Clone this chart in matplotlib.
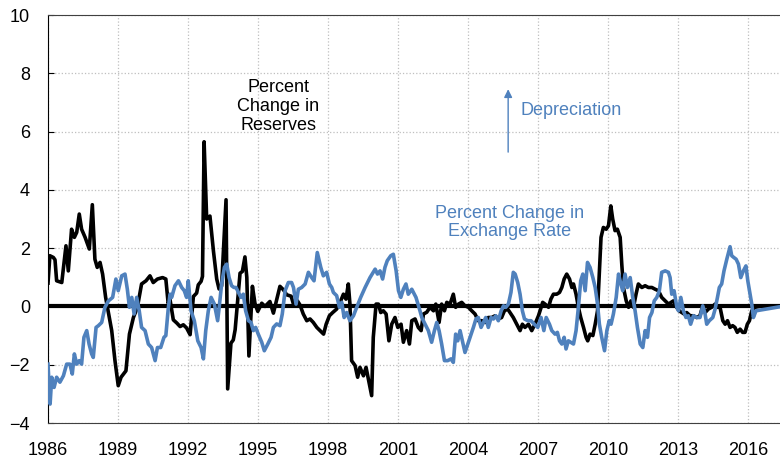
import matplotlib.pyplot as plt

# ---------------- data ----------------
reserves_t = [1986.00, 1986.08, 1986.23, 1986.30, 1986.37, 1986.59, 1986.77, 1986.87, 1987.01, 1987.13,
              1987.23, 1987.34, 1987.44, 1987.59, 1987.77, 1987.90, 1988.01, 1988.11, 1988.23, 1988.34,
              1988.47, 1988.59, 1988.73, 1988.87, 1989.01, 1989.13, 1989.34, 1989.49, 1989.66, 1989.83,
              1990.01, 1990.20, 1990.37, 1990.51, 1990.69, 1990.91, 1991.05, 1991.15, 1991.23, 1991.37,
              1991.52, 1991.66, 1991.80, 1991.94, 1992.09, 1992.23, 1992.37, 1992.44, 1992.56, 1992.62,
              1992.69, 1992.80, 1992.94, 1993.09, 1993.23, 1993.33, 1993.44, 1993.63, 1993.70, 1993.84,
              1993.94, 1994.02, 1994.13, 1994.23, 1994.33, 1994.44, 1994.52, 1994.61, 1994.76, 1994.87,
              1994.99, 1995.16, 1995.30, 1995.51, 1995.66, 1995.94, 1996.09, 1996.23, 1996.42, 1996.52,
              1996.69, 1996.80, 1996.94, 1997.09, 1997.23, 1997.37, 1997.52, 1997.66, 1997.81, 1997.92,
              1998.06, 1998.20, 1998.37, 1998.52, 1998.66, 1998.77, 1998.87, 1998.94, 1999.01, 1999.16,
              1999.27, 1999.37, 1999.52, 1999.63, 1999.73, 1999.87, 1999.94, 2000.06, 2000.16, 2000.26,
              2000.37, 2000.49, 2000.61, 2000.73, 2000.87, 2000.99, 2001.13, 2001.23, 2001.37, 2001.49,
              2001.59, 2001.73, 2001.87, 2001.99, 2002.09, 2002.23, 2002.37, 2002.52, 2002.62, 2002.76,
              2002.87, 2002.99, 2003.09, 2003.23, 2003.37, 2003.47, 2003.59, 2003.73, 2003.87, 2004.02,
              2004.16, 2004.30, 2004.44, 2004.59, 2004.73, 2004.87, 2005.02, 2005.16, 2005.30, 2005.44,
              2005.56, 2005.70, 2005.80, 2005.94, 2006.09, 2006.23, 2006.33, 2006.44, 2006.59, 2006.73,
              2006.87, 2007.02, 2007.20, 2007.30, 2007.45, 2007.55, 2007.66, 2007.80, 2007.92, 2008.02,
              2008.12, 2008.23, 2008.35, 2008.45, 2008.52, 2008.63, 2008.73, 2008.83, 2008.95, 2009.06,
              2009.13, 2009.23, 2009.35, 2009.45, 2009.55, 2009.63, 2009.70, 2009.80, 2009.92, 2010.02,
              2010.12, 2010.20, 2010.30, 2010.40, 2010.52, 2010.59, 2010.66, 2010.78, 2010.88, 2010.98,
              2011.09, 2011.20, 2011.30, 2011.45, 2011.59, 2011.73, 2011.88, 2012.02, 2012.16, 2012.30,
              2012.45, 2012.59, 2012.80, 2012.94, 2013.05, 2013.16, 2013.26, 2013.37, 2013.52, 2013.66,
              2013.80, 2013.94, 2014.06, 2014.16, 2014.30, 2014.44, 2014.59, 2014.69, 2014.80, 2014.92,
              2015.02, 2015.12, 2015.23, 2015.34, 2015.44, 2015.54, 2015.66, 2015.77, 2015.87, 2015.97,
              2016.06, 2016.16, 2016.30, 2016.50]
reserves_v = [0.80, 1.74, 1.68, 1.60, 0.88, 0.82, 2.08, 1.22, 2.65, 2.37,
              2.54, 3.17, 2.65, 2.37, 1.97, 3.49, 1.62, 1.34, 1.51, 1.11,
              0.31, -0.21, -0.83, -1.86, -2.72, -2.43, -2.21, -0.95, -0.38, -0.03,
              0.77, 0.88, 1.05, 0.82, 0.94, 0.99, 0.94, 0.10, 0.23, -0.46,
              -0.57, -0.69, -0.63, -0.74, -0.97, 0.34, 0.46, 0.74, 0.86, 1.03,
              5.65, 3.00, 3.10, 1.90, 0.94, 0.60, 0.70, 3.66, -2.83, -1.26,
              -1.15, -0.80, 0.23, 1.14, 1.20, 1.70, 1.00, -1.70, 0.69, 0.10,
              -0.17, 0.11, 0.00, 0.17, -0.23, 0.69, 0.57, 0.40, 0.35, 0.08,
              0.19, 0.05, -0.26, -0.49, -0.43, -0.55, -0.72, -0.83, -0.95, -0.61,
              -0.32, -0.21, -0.09, 0.14, 0.42, 0.25, 0.77, 0.08, -1.86, -2.03,
              -2.43, -2.09, -2.38, -2.09, -2.49, -3.06, -1.06, 0.08, 0.08, -0.21,
              -0.15, -0.26, -1.18, -0.61, -0.38, -0.72, -0.61, -1.23, -0.83, -1.29,
              -0.49, -0.43, -0.72, -0.83, -0.26, -0.20, -0.03, -0.15, 0.08, -0.55,
              0.08, -0.15, 0.14, 0.08, 0.42, -0.03, 0.08, 0.14, 0.02, -0.03,
              -0.15, -0.26, -0.49, -0.49, -0.55, -0.38, -0.38, -0.32, -0.43, -0.38,
              -0.15, -0.09, -0.21, -0.38, -0.61, -0.83, -0.61, -0.72, -0.61, -0.83,
              -0.61, -0.32, 0.14, 0.08, -0.03, 0.25, 0.42, 0.42, 0.48, 0.65,
              0.94, 1.11, 0.94, 0.65, 0.77, 0.42, -0.03, -0.38, -0.72, -1.06,
              -1.18, -0.95, -1.00, -0.61, -0.15, 1.22, 2.37, 2.71, 2.65, 2.77,
              3.45, 3.00, 2.60, 2.65, 2.37, 1.44, 0.65, 0.19, -0.03, 0.19,
              -0.03, 0.42, 0.77, 0.65, 0.71, 0.65, 0.65, 0.59, 0.54, 0.31,
              0.19, 0.08, 0.19, -0.03, -0.15, -0.21, -0.26, -0.21, -0.32, -0.32,
              -0.38, -0.32, 0.02, -0.21, -0.09, -0.03, 0.08, -0.03, -0.03, -0.49,
              -0.61, -0.49, -0.72, -0.66, -0.72, -0.89, -0.78, -0.89, -0.89, -0.61,
              -0.49, -0.15, -0.03, 0.00]

fx_t = [1986.00, 1986.09, 1986.16, 1986.26, 1986.37, 1986.51, 1986.66, 1986.80, 1986.94, 1987.04,
        1987.13, 1987.23, 1987.34, 1987.44, 1987.54, 1987.66, 1987.76, 1987.87, 1987.94, 1988.06,
        1988.16, 1988.30, 1988.44, 1988.59, 1988.77, 1988.91, 1989.01, 1989.16, 1989.30, 1989.40,
        1989.49, 1989.59, 1989.69, 1989.80, 1989.91, 1990.01, 1990.16, 1990.30, 1990.44, 1990.59,
        1990.69, 1990.83, 1990.97, 1991.05, 1991.15, 1991.23, 1991.30, 1991.44, 1991.59, 1991.73,
        1991.84, 1991.94, 1992.01, 1992.13, 1992.27, 1992.42, 1992.56, 1992.66, 1992.76, 1992.87,
        1992.99, 1993.13, 1993.27, 1993.34, 1993.44, 1993.56, 1993.66, 1993.76, 1993.87, 1993.97,
        1994.06, 1994.16, 1994.27, 1994.37, 1994.47, 1994.59, 1994.70, 1994.80, 1994.90, 1995.01,
        1995.16, 1995.27, 1995.42, 1995.56, 1995.66, 1995.80, 1995.94, 1996.04, 1996.16, 1996.30,
        1996.44, 1996.52, 1996.63, 1996.73, 1996.87, 1997.02, 1997.16, 1997.30, 1997.40, 1997.54,
        1997.69, 1997.80, 1997.94, 1998.06, 1998.16, 1998.23, 1998.37, 1998.49, 1998.59, 1998.69,
        1998.80, 1998.94, 1999.09, 1999.23, 1999.40, 1999.59, 1999.80, 2000.02, 2000.12, 2000.23,
        2000.34, 2000.44, 2000.54, 2000.69, 2000.80, 2000.92, 2001.02, 2001.12, 2001.23, 2001.34,
        2001.44, 2001.59, 2001.77, 2001.94, 2002.02, 2002.16, 2002.30, 2002.44, 2002.56, 2002.66,
        2002.76, 2002.87, 2002.99, 2003.13, 2003.27, 2003.37, 2003.47, 2003.56, 2003.66, 2003.76,
        2003.87, 2003.99, 2004.09, 2004.23, 2004.34, 2004.44, 2004.56, 2004.66, 2004.76, 2004.87,
        2004.99, 2005.09, 2005.19, 2005.30, 2005.42, 2005.52, 2005.62, 2005.73, 2005.84, 2005.94,
        2006.02, 2006.13, 2006.23, 2006.33, 2006.42, 2006.56, 2006.70, 2006.84, 2006.99, 2007.13,
        2007.25, 2007.35, 2007.49, 2007.59, 2007.73, 2007.83, 2007.92, 2008.02, 2008.12, 2008.20,
        2008.30, 2008.40, 2008.52, 2008.63, 2008.73, 2008.83, 2008.92, 2009.02, 2009.12, 2009.23,
        2009.35, 2009.45, 2009.55, 2009.63, 2009.73, 2009.85, 2009.95, 2010.05, 2010.13, 2010.23,
        2010.35, 2010.45, 2010.55, 2010.63, 2010.73, 2010.83, 2010.95, 2011.06, 2011.16, 2011.26,
        2011.38, 2011.49, 2011.59, 2011.69, 2011.78, 2011.88, 2011.98, 2012.09, 2012.20, 2012.30,
        2012.45, 2012.59, 2012.66, 2012.73, 2012.83, 2012.95, 2013.02, 2013.12, 2013.23, 2013.34,
        2013.44, 2013.54, 2013.66, 2013.80, 2013.94, 2014.06, 2014.16, 2014.23, 2014.34, 2014.49,
        2014.59, 2014.69, 2014.77, 2014.87, 2014.97, 2015.09, 2015.23, 2015.30, 2015.39, 2015.49,
        2015.59, 2015.69, 2015.80, 2015.91, 2015.99, 2016.09, 2016.16, 2016.23, 2016.34, 2017.37]
fx_v = [-1.98, -3.35, -2.43, -2.78, -2.43, -2.60, -2.38, -1.98, -1.98, -2.32,
        -1.63, -1.98, -1.86, -1.98, -1.06, -0.83, -1.29, -1.63, -1.75, -0.72,
        -0.66, -0.55, -0.03, 0.19, 0.31, 0.94, 0.54, 1.05, 1.11, 0.59,
        -0.03, 0.31, -0.26, 0.31, -0.15, -0.72, -0.83, -1.29, -1.41, -1.86,
        -1.41, -1.41, -1.06, -1.00, -0.10, 0.42, 0.31, 0.71, 0.88, 0.65,
        0.54, 0.31, 0.88, -0.15, -0.49, -1.18, -1.41, -1.80, -0.83, -0.15,
        0.31, 0.08, -0.49, 0.00, 0.77, 1.34, 1.45, 0.99, 0.71, 0.65,
        0.65, 0.48, 0.31, 0.42, -0.15, -0.49, -0.55, -0.83, -0.72, -0.95,
        -1.23, -1.52, -1.29, -1.06, -0.72, -0.60, -0.66, -0.26, 0.54, 0.82,
        0.82, 0.65, 0.08, 0.59, 0.65, 0.77, 1.17, 0.99, 0.88, 1.85,
        1.34, 1.05, 1.17, 0.77, 0.65, 0.48, 0.37, -0.03, 0.14, -0.38,
        -0.21, -0.49, -0.32, -0.03, 0.31, 0.65, 0.99, 1.28, 1.11, 1.22,
        0.94, 1.34, 1.57, 1.74, 1.79, 1.22, 0.54, 0.31, 0.59, 0.77,
        0.42, 0.59, 0.31, -0.15, -0.38, -0.61, -0.83, -1.23, -0.83, -0.55,
        -0.83, -1.29, -1.86, -1.86, -1.80, -1.92, -0.95, -1.18, -0.83, -1.18,
        -1.58, -1.29, -1.06, -0.72, -0.43, -0.38, -0.72, -0.55, -0.38, -0.72,
        -0.38, -0.43, -0.32, -0.49, -0.15, 0.02, -0.03, 0.08, 0.48, 1.17,
        1.11, 0.82, 0.42, -0.15, -0.43, -0.49, -0.49, -0.61, -0.72, -0.38,
        -0.83, -0.38, -0.61, -0.83, -0.95, -0.89, -1.18, -1.29, -1.06, -1.46,
        -1.18, -1.23, -1.29, -0.83, -0.03, 0.88, 1.11, 0.54, 1.51, 1.34,
        0.99, 0.65, 0.08, -0.61, -1.06, -1.52, -0.83, -0.49, -0.61, -0.26,
        0.31, 1.11, 0.77, 0.54, 1.11, 0.65, 0.99, 0.31, -0.15, -0.72,
        -1.29, -1.41, -0.83, -1.06, -0.38, -0.21, 0.19, 0.31, 0.54, 1.17,
        1.22, 1.17, 0.99, 0.42, 0.54, -0.03, -0.15, 0.31, -0.15, -0.38,
        -0.32, -0.61, -0.32, -0.38, -0.38, 0.02, -0.26, -0.61, -0.49, -0.38,
        -0.09, 0.31, 0.65, 0.77, 1.22, 1.62, 2.05, 1.74, 1.68, 1.62,
        1.45, 0.99, 1.22, 1.39, 0.88, 0.42, 0.08, -0.38, -0.15, -0.01]

year_ticks = list(range(1986, 2017, 3))
y_ticks = list(range(-4, 11, 2))

blue = '#4F81BD'
plt.rcParams['font.family'] = ['Liberation Sans', 'DejaVu Sans']

# ---------------- figure ----------------
fig = plt.figure(figsize=(7.8, 4.62), dpi=100)
ax = fig.add_axes([48 / 780, 1 - 423 / 462, 1 - 48 / 780, (423 - 15) / 462])

ax.axhline(0, color='black', linewidth=3, zorder=2)
ax.plot(reserves_t, reserves_v, color='black', linewidth=2.6, zorder=3)
ax.plot(fx_t, fx_v, color=blue, linewidth=2.6, zorder=4)

ax.set_xlim(1986, 2017.37)
ax.set_ylim(-4, 10)
ax.set_xticks(year_ticks)
ax.set_yticks(y_ticks)
ax.grid(True, linestyle=':', color='#BFBFBF', linewidth=0.9)
ax.set_axisbelow(True)

ax.tick_params(axis='x', length=0, pad=14, labelsize=13)
ax.tick_params(axis='y', direction='in', length=4, pad=13, labelsize=13)
ax.spines['right'].set_visible(False)
ax.spines['bottom'].set_color('#404040')
ax.spines['top'].set_color('#404040')

# 注释文字 / annotations
ax.text(1995.86, 6.86, 'Percent\nChange in\nReserves', ha='center', va='center',
        fontsize=13, color='black', linespacing=1.15)
ax.text(2005.8, 2.88, 'Percent Change in\nExchange Rate', ha='center', va='center',
        fontsize=13, color=blue, linespacing=1.15)
ax.text(2006.27, 6.72, 'Depreciation', ha='left', va='center', fontsize=13, color=blue)
ax.annotate('', xy=(2005.72, 7.55), xytext=(2005.72, 5.2),
            arrowprops=dict(arrowstyle='-|>', color=blue, lw=1.0, mutation_scale=12))

fig.savefig('out.png', dpi=100)
